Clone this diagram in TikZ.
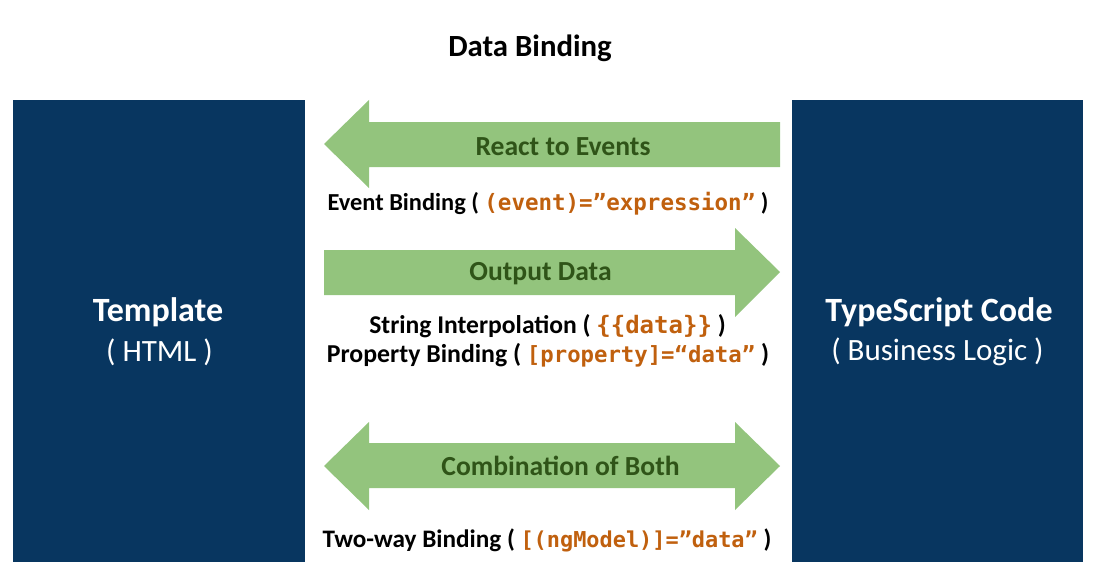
\documentclass[tikz,border=0pt]{standalone}
\usepackage{fontspec}
\setmainfont{Carlito}
\newfontfamily\codefont{DejaVu Sans Mono}
\definecolor{boxblue}{HTML}{083660}
\definecolor{arrgreen}{HTML}{93C47D}
\definecolor{lblgreen}{HTML}{2F5418}
\definecolor{codeorange}{HTML}{C0600E}
\tikzset{
  blockbox/.style={fill=boxblue, draw=none},
  blockarrow/.style={fill=arrgreen, draw=none},
  titletext/.style={anchor=base, inner sep=0pt, font=\fontsize{30.8}{36}\selectfont\bfseries},
  boxtitle/.style={anchor=base, inner sep=0pt, text=white, font=\fontsize{34}{40}\selectfont\bfseries},
  boxsub/.style={anchor=base, inner sep=0pt, text=white, font=\fontsize{31}{36}\selectfont},
  arrowlabel/.style={anchor=base, inner sep=0pt, text=lblgreen, font=\fontsize{27.6}{33}\selectfont\bfseries},
  caption/.style={anchor=base, inner sep=0pt, font=\bfseries},
}
\newcommand{\code}[2]{{\color{codeorange}\codefont\bfseries\fontsize{#1}{#1}\selectfont #2}}
\newcommand{\capsize}[1]{\fontsize{#1}{#1}\selectfont}
\begin{document}
\begin{tikzpicture}[x=1pt,y=-1pt]
\useasboundingbox (0,0) rectangle (1099,583);
% boxes
\fill[blockbox] (13,100) rectangle (305,562);
\fill[blockbox] (792,100) rectangle (1083,562);
% arrows
\fill[blockarrow] (324,144) -- (369,100) -- (369,122) -- (780,122) -- (780,167) -- (369,167) -- (369,188) -- cycle;
\fill[blockarrow] (324,250) -- (735,250) -- (735,228) -- (780,272) -- (735,317) -- (735,295) -- (324,295) -- cycle;
\fill[blockarrow] (324,466) -- (369,422) -- (369,443) -- (735,443) -- (735,422) -- (780,466) -- (735,510) -- (735,488) -- (369,488) -- (369,510) -- cycle;
% texts
\node[titletext] (title) at (530,57) {Data Binding};
\node[boxtitle] (tpl) at (158,321) {Template};
\node[boxsub] (tplsub) at (159.5,361) {( HTML )};
\node[boxtitle] (ts) at (939,321) {TypeScript Code};
\node[boxsub] (tssub) at (937.5,360) {( Business Logic )};
\node[arrowlabel] (l1) at (563,155) {React to Events};
\node[arrowlabel] (l2) at (540.5,280) {Output Data};
\node[arrowlabel] (l3) at (560.5,475) {Combination of Both};
\node[caption] (c1) at (548,210) {\capsize{24.4}Event Binding ( \code{22.5}{(event)=”expression”} )};
\node[caption] (c2) at (547.5,333) {\capsize{25.6}String Interpolation ( \code{24}{\{\{data\}\}} )};
\node[caption] (c3) at (548,362) {\capsize{25.8}Property Binding ( \code{22.3}{[property]=“data”} )};
\node[caption] (c4) at (547,547) {\capsize{25.2}Two-way Binding ( \code{21.9}{[(ngModel)]=”data”} )};
\end{tikzpicture}
\end{document}
